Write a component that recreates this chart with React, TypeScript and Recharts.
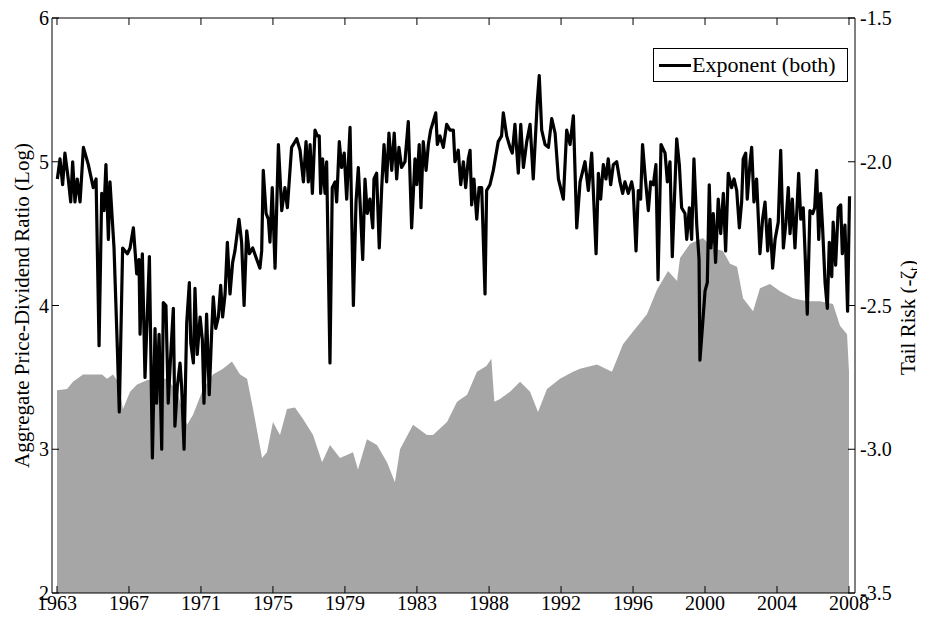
import React from 'react';
import { ComposedChart, Area, Line, XAxis, YAxis, Legend } from 'recharts';

// Aggregate price-dividend ratio (log), left axis
const pdYears = [
  1963.0, 1963.57, 1963.91, 1964.48, 1965.05, 1965.56, 1965.84, 1966.18, 1966.47, 1966.75,
  1967.15, 1967.55, 1968.11, 1968.68, 1969.25, 1969.82, 1970.39, 1970.73, 1971.3, 1971.86,
  1972.43, 1972.94, 1973.4, 1973.8, 1974.14, 1974.65, 1974.93, 1975.27, 1975.67, 1976.07,
  1976.52, 1976.98, 1977.55, 1978.06, 1978.51, 1979.08, 1979.82, 1980.1, 1980.61, 1981.18,
  1981.75, 1982.2, 1982.49, 1983.23, 1984.02, 1984.36, 1985.16, 1985.73, 1986.3, 1986.86,
  1987.4, 1987.68, 1987.85, 1988.17, 1988.74, 1989.31, 1989.88, 1990.33, 1990.84, 1991.58,
  1992.32, 1992.72, 1993.68, 1994.53, 1995.16, 1995.73, 1996.52, 1997.09, 1997.72, 1998.23,
  1998.4, 1998.97, 1999.36, 1999.7, 2000.27, 2000.84, 2001.24, 2001.64, 2001.98, 2002.55,
  2002.94, 2003.51, 2004.08, 2004.82, 2005.61, 2006.35, 2007.09, 2007.49, 2007.89, 2008.0,
];
const pdValues = [
  3.41, 3.42, 3.47, 3.52, 3.52, 3.52, 3.49, 3.52, 3.47, 3.28,
  3.4, 3.45, 3.48, 3.49, 3.49, 3.4, 3.17, 3.24, 3.42, 3.52,
  3.56, 3.61, 3.52, 3.49, 3.28, 2.94, 2.98, 3.19, 3.1, 3.28,
  3.29, 3.21, 3.1, 2.91, 3.03, 2.94, 2.98, 2.86, 3.07, 3.03,
  2.91, 2.77, 3.0, 3.17, 3.1, 3.1, 3.19, 3.33, 3.38, 3.54,
  3.58, 3.63, 3.33, 3.35, 3.4, 3.47, 3.4, 3.26, 3.42, 3.49,
  3.54, 3.56, 3.59, 3.54, 3.73, 3.82, 3.94, 4.11, 4.24, 4.17,
  4.33, 4.43, 4.45, 4.47, 4.4, 4.38, 4.29, 4.27, 4.05, 3.96,
  4.12, 4.15, 4.1, 4.05, 4.03, 4.03, 4.01, 3.86, 3.8, 3.54,
];

// Tail risk exponent (-zeta), right axis
const tailYears = [
  1963.02, 1963.17, 1963.32, 1963.45, 1963.64, 1963.78, 1963.89, 1964.02, 1964.15, 1964.31,
  1964.5, 1964.78, 1965.06, 1965.22, 1965.39, 1965.54, 1965.67, 1965.78, 1965.92, 1966.01,
  1966.24, 1966.43, 1966.54, 1966.73, 1967.0, 1967.15, 1967.34, 1967.53, 1967.66, 1967.72,
  1967.85, 1968.0, 1968.25, 1968.42, 1968.57, 1968.66, 1968.8, 1968.95, 1969.04, 1969.19,
  1969.32, 1969.48, 1969.61, 1969.7, 1969.84, 1969.99, 1970.08, 1970.22, 1970.37, 1970.52,
  1970.6, 1970.75, 1970.84, 1970.97, 1971.13, 1971.26, 1971.35, 1971.5, 1971.65, 1971.79,
  1971.88, 1972.02, 1972.17, 1972.3, 1972.41, 1972.55, 1972.68, 1972.83, 1972.98, 1973.11,
  1973.34, 1973.49, 1973.63, 1973.78, 1973.93, 1974.12, 1974.35, 1974.53, 1974.63, 1974.72,
  1974.88, 1975.01, 1975.1, 1975.23, 1975.39, 1975.58, 1975.77, 1975.95, 1976.09, 1976.33,
  1976.62, 1976.81, 1977.0, 1977.15, 1977.28, 1977.38, 1977.51, 1977.66, 1977.79, 1977.9,
  1977.98, 1978.09, 1978.23, 1978.32, 1978.51, 1978.64, 1978.8, 1978.89, 1979.04, 1979.17,
  1979.32, 1979.46, 1979.65, 1979.84, 1979.99, 1980.12, 1980.22, 1980.37, 1980.5, 1980.63,
  1980.78, 1980.94, 1981.01, 1981.16, 1981.31, 1981.45, 1981.58, 1981.73, 1981.86, 1982.02,
  1982.16, 1982.3, 1982.43, 1982.58, 1982.77, 1982.96, 1983.15, 1983.34, 1983.44, 1983.58,
  1983.68, 1983.81, 1983.97, 1984.1, 1984.23, 1984.38, 1984.52, 1984.61, 1984.76, 1984.95,
  1985.14, 1985.33, 1985.52, 1985.61, 1985.8, 1985.94, 1986.09, 1986.22, 1986.37, 1986.47,
  1986.56, 1986.69, 1986.85, 1986.98, 1987.13, 1987.32, 1987.41, 1987.6, 1987.79, 1988.07,
  1988.26, 1988.36, 1988.55, 1988.74, 1988.87, 1989.02, 1989.21, 1989.35, 1989.5, 1989.69,
  1989.88, 1990.06, 1990.29, 1990.4, 1990.54, 1990.73, 1990.92, 1991.11, 1991.3, 1991.49,
  1991.77, 1991.96, 1992.15, 1992.34, 1992.53, 1992.72, 1993.0, 1993.19, 1993.38, 1993.63,
  1993.76, 1993.89, 1994.04, 1994.19, 1994.32, 1994.46, 1994.61, 1994.8, 1994.99, 1995.14,
  1995.27, 1995.46, 1995.65, 1995.74, 1995.9, 1996.03, 1996.16, 1996.27, 1996.43, 1996.6,
  1996.73, 1996.88, 1997.03, 1997.15, 1997.32, 1997.55, 1997.68, 1997.83, 1997.96, 1998.21,
  1998.36, 1998.49, 1998.68, 1998.78, 1998.93, 1999.06, 1999.19, 1999.35, 1999.48, 1999.53,
  1999.69, 1999.82, 1999.95, 2000.06, 2000.16, 2000.29, 2000.42, 2000.57, 2000.71, 2000.86,
  2000.99, 2001.14, 2001.33, 2001.47, 2001.62, 2001.77, 2001.9, 2001.99, 2002.13, 2002.22,
  2002.38, 2002.47, 2002.6, 2002.75, 2002.94, 2003.09, 2003.23, 2003.38, 2003.51, 2003.66,
  2003.8, 2003.98, 2004.12, 2004.27, 2004.42, 2004.55, 2004.65, 2004.78, 2004.93, 2005.03,
  2005.14, 2005.26, 2005.4, 2005.5, 2005.63, 2005.78, 2005.94, 2006.05, 2006.16, 2006.28,
  2006.39, 2006.5, 2006.64, 2006.77, 2006.88, 2007.02, 2007.1, 2007.24, 2007.39, 2007.53,
  2007.62, 2007.77, 2007.92, 2008.03,
];
const tailValues = [
  -2.06, -1.99, -2.08, -1.97, -2.06, -2.14, -2.0, -2.14, -2.06, -2.14,
  -1.95, -2.01, -2.09, -2.06, -2.64, -2.11, -2.17, -2.01, -2.27, -2.07,
  -2.3, -2.65, -2.87, -2.3, -2.32, -2.3, -2.23, -2.39, -2.34, -2.6,
  -2.32, -2.75, -2.33, -3.03, -2.58, -2.84, -2.6, -3.0, -2.49, -2.5,
  -2.84, -2.65, -2.51, -2.92, -2.78, -2.7, -2.78, -3.0, -2.56, -2.42,
  -2.63, -2.7, -2.44, -2.67, -2.54, -2.62, -2.84, -2.53, -2.81, -2.59,
  -2.47, -2.58, -2.54, -2.43, -2.54, -2.46, -2.28, -2.46, -2.35, -2.31,
  -2.2, -2.28, -2.5, -2.24, -2.32, -2.3, -2.34, -2.37, -2.31, -2.03,
  -2.18, -2.2, -2.28, -2.09, -2.37, -1.94, -2.17, -2.09, -2.16, -1.95,
  -1.92, -1.96, -2.07, -1.93, -2.07, -1.94, -2.11, -1.89, -1.91, -1.91,
  -2.11, -1.99, -2.11, -2.0, -2.7, -2.09, -2.07, -2.14, -1.93, -2.02,
  -1.97, -2.13, -1.88, -2.5, -2.14, -2.02, -2.14, -2.34, -2.06, -2.18,
  -2.13, -2.23, -2.06, -2.04, -2.3, -2.09, -1.94, -2.07, -1.9, -2.03,
  -1.9, -2.06, -1.95, -2.02, -2.0, -1.86, -2.23, -1.99, -2.08, -1.94,
  -2.16, -1.93, -2.03, -1.94, -1.89, -1.86, -1.83, -1.94, -1.91, -1.95,
  -1.87, -1.89, -1.89, -2.0, -1.96, -2.08, -2.0, -2.09, -1.99, -1.96,
  -2.15, -2.06, -2.2, -2.09, -2.09, -2.46, -2.1, -2.08, -2.03, -1.93,
  -1.91, -1.83, -1.91, -1.95, -1.97, -1.87, -2.04, -1.87, -2.02, -1.93,
  -1.87, -2.06, -1.79, -1.7, -1.89, -1.94, -1.95, -1.85, -1.9, -2.06,
  -2.13, -1.89, -1.94, -1.84, -2.23, -2.07, -2.0, -2.1, -1.97, -2.32,
  -2.04, -2.13, -2.01, -2.06, -1.99, -2.08, -2.01, -2.0, -2.07, -2.11,
  -2.07, -2.11, -2.07, -2.1, -2.31, -2.1, -2.13, -1.94, -2.06, -2.17,
  -2.07, -2.08, -2.01, -2.41, -1.94, -1.97, -2.07, -2.0, -2.33, -1.92,
  -2.01, -2.16, -2.18, -2.27, -2.16, -2.27, -1.99, -2.22, -2.34, -2.69,
  -2.56, -2.45, -2.42, -2.08, -2.3, -2.18, -2.35, -2.13, -2.25, -2.11,
  -2.31, -2.04, -2.09, -2.06, -2.1, -2.23, -2.14, -1.99, -1.97, -2.13,
  -2.0, -1.95, -2.14, -2.06, -2.32, -2.2, -2.14, -2.31, -2.2, -2.37,
  -2.27, -2.21, -1.96, -2.3, -2.21, -2.09, -2.25, -2.13, -2.3, -2.18,
  -2.04, -2.2, -2.16, -2.31, -2.53, -2.17, -2.18, -2.16, -2.03, -2.27,
  -2.11, -2.23, -2.42, -2.51, -2.28, -2.4, -2.21, -2.36, -2.16, -2.15,
  -2.32, -2.22, -2.52, -2.12,
];

const xTickPositions = [1963, 1967.09, 1971.18, 1975.27, 1979.36, 1983.45, 1987.55, 1991.64, 1995.73, 1999.82, 2003.91, 2008];
const xTickLabels = ['1963', '1967', '1971', '1975', '1979', '1983', '1988', '1992', '1996', '2000', '2004', '2008'];
const leftTicks = [2, 3, 4, 5, 6];
const rightTicks = [-3.5, -3.0, -2.5, -2.0, -1.5];

type Row = { t: number; pd?: number; tail?: number };
const rows: Row[] = [
  ...pdYears.map((t, i) => ({ t, pd: pdValues[i] })),
  ...tailYears.map((t, i) => ({ t, tail: tailValues[i] })),
].sort((a, b) => a.t - b.t);

const FONT = '"Liberation Serif", "Times New Roman", serif';
const tickStyle = { fill: '#000', fontSize: 20, fontFamily: FONT };

const xLabel = (v: number) => {
  const idx = xTickPositions.indexOf(v);
  return idx >= 0 ? xTickLabels[idx] : String(Math.round(v));
};

const LegendBox = () => (
  <div
    style={{
      boxSizing: 'border-box',
      width: 195,
      height: 34,
      border: '1px solid #000',
      background: '#fff',
      display: 'flex',
      alignItems: 'center',
      paddingLeft: 5,
      fontFamily: FONT,
      fontSize: 22,
      lineHeight: '22px',
      color: '#000',
      whiteSpace: 'nowrap',
    }}
  >
    <span style={{ display: 'inline-block', width: 32, height: 3, background: '#000', marginRight: 1 }} />
    <span>Exponent (both)</span>
  </div>
);

const LeftLabel = (props: any) => {
  const vb = props.viewBox || { x: 0, y: 0, width: 44, height: 575 };
  const cx = vb.x + 14;
  const cy = vb.y + vb.height / 2;
  return (
    <text x={cx} y={cy} transform={`rotate(-90, ${cx}, ${cy})`} textAnchor="middle" dominantBaseline="central"
      style={{ fontFamily: FONT, fontSize: 21, fill: '#000' }}>
      Aggregate Price-Dividend Ratio (Log)
    </text>
  );
};

const RightLabel = (props: any) => {
  const vb = props.viewBox || { x: 847, y: 0, width: 70, height: 575 };
  const cx = vb.x + 53;
  const cy = vb.y + vb.height / 2 + 12;
  return (
    <text x={cx} y={cy} transform={`rotate(-90, ${cx}, ${cy})`} textAnchor="middle" dominantBaseline="central"
      style={{ fontFamily: FONT, fontSize: 21, fill: '#000' }}>
      <tspan>Tail Risk (-ζ</tspan>
      <tspan dy={6} fontSize={14}>t</tspan>
      <tspan dy={-6}>)</tspan>
    </text>
  );
};

export default function App() {
  return (
    <ComposedChart
      width={917}
      height={612}
      data={rows}
      margin={{ top: 0, right: 0, bottom: 0, left: 0 }}
      style={{ fontFamily: FONT }}
    >
      <XAxis
        dataKey="t"
        type="number"
        domain={[1962.716, 2008.341]}
        ticks={xTickPositions}
        tickFormatter={xLabel}
        tick={tickStyle}
        tickSize={-7}
        tickMargin={10}
        height={27}
        axisLine={{ stroke: '#000' }}
        tickLine={{ stroke: '#000' }}
        interval={0}
        allowDataOverflow
      />
      <XAxis
        xAxisId="top"
        orientation="top"
        dataKey="t"
        type="number"
        domain={[1962.716, 2008.341]}
        ticks={xTickPositions}
        tickFormatter={() => ''}
        tick={tickStyle}
        tickSize={-7}
        height={10}
        axisLine={{ stroke: '#000' }}
        tickLine={{ stroke: '#000' }}
        interval={0}
        allowDataOverflow
      />
      <YAxis
        yAxisId="left"
        orientation="left"
        type="number"
        domain={[2, 6]}
        ticks={leftTicks}
        tick={tickStyle}
        tickSize={-7}
        tickMargin={10}
        width={44}
        axisLine={{ stroke: '#000' }}
        tickLine={{ stroke: '#000' }}
        interval={0}
        allowDataOverflow
        label={LeftLabel}
      />
      <YAxis
        yAxisId="right"
        orientation="right"
        type="number"
        domain={[-3.5, -1.5]}
        ticks={rightTicks}
        tickFormatter={(v: number) => v.toFixed(1)}
        tick={tickStyle}
        tickSize={-7}
        tickMargin={12}
        width={70}
        axisLine={{ stroke: '#000' }}
        tickLine={{ stroke: '#000' }}
        interval={0}
        allowDataOverflow
        label={RightLabel}
      />
      <Area
        yAxisId="left"
        dataKey="pd"
        type="linear"
        baseValue={2}
        fill="#a6a6a6"
        fillOpacity={1}
        stroke="none"
        connectNulls
        isAnimationActive={false}
        dot={false}
        activeDot={false}
      />
      <Line
        yAxisId="right"
        dataKey="tail"
        type="linear"
        stroke="#000"
        strokeWidth={3.2}
        strokeLinejoin="round"
        connectNulls
        dot={false}
        activeDot={false}
        isAnimationActive={false}
      />
      <Legend
        verticalAlign="middle"
        align="center"
        layout="horizontal"
        wrapperStyle={{ top: 40, left: 645, width: 195, height: 34 }}
        content={() => <LegendBox />}
      />
    </ComposedChart>
  );
}
